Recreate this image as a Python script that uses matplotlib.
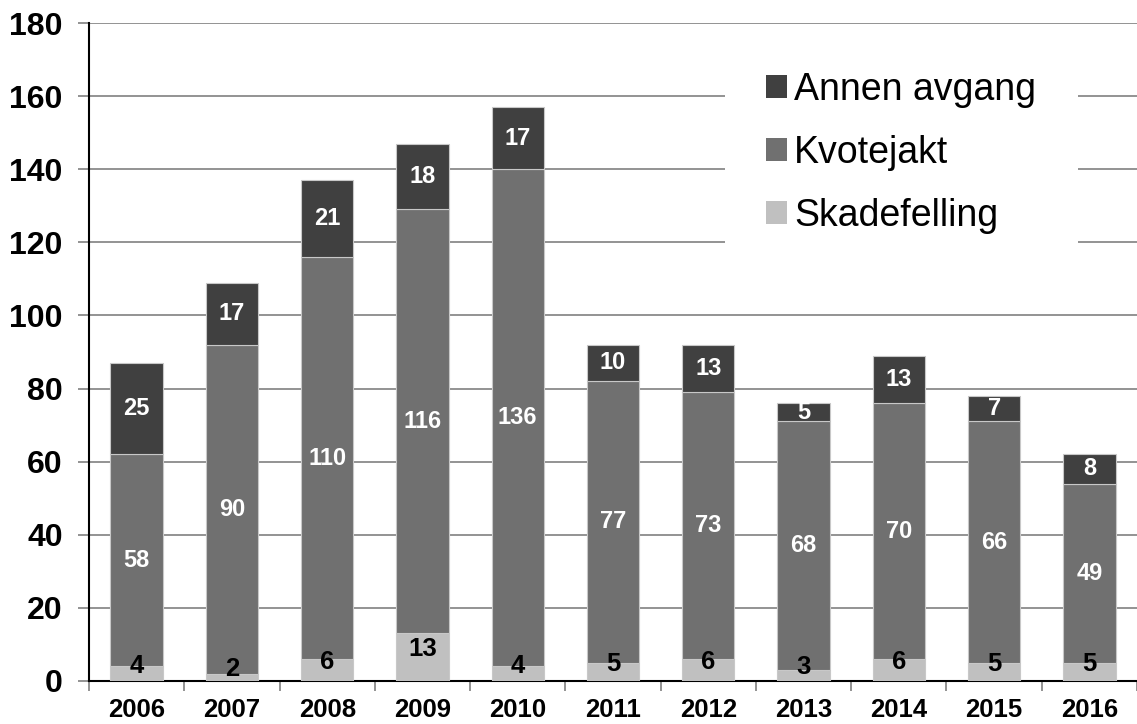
import numpy as np
import matplotlib
matplotlib.use('Agg')
import matplotlib.pyplot as plt

plt.rcParams['font.family'] = ['Liberation Sans', 'DejaVu Sans']

# data
years = ['2006', '2007', '2008', '2009', '2010', '2011', '2012', '2013', '2014', '2015', '2016']
skadefelling = [4, 2, 6, 13, 4, 5, 6, 3, 6, 5, 5]
kvotejakt = [58, 90, 110, 116, 136, 77, 73, 68, 70, 66, 49]
annen = [25, 17, 21, 18, 17, 10, 13, 5, 13, 7, 8]

c_light = '#c0c0c0'
c_mid = '#707070'
c_dark = '#404040'

fig = plt.figure(figsize=(11.37, 7.24), dpi=100)
ax = fig.add_axes([0.0783, 0.0594, 0.9217, 0.9088])

x = np.arange(len(years))
w = 0.55
s = np.array(skadefelling)
k = np.array(kvotejakt)
a = np.array(annen)

b1 = ax.bar(x, s, w, color=c_light, edgecolor='#c8c8c8', linewidth=0.8, label='Skadefelling', zorder=3)
b2 = ax.bar(x, k, w, bottom=s, color=c_mid, edgecolor='#c8c8c8', linewidth=0.8, label='Kvotejakt', zorder=3)
b3 = ax.bar(x, a, w, bottom=s + k, color=c_dark, edgecolor='#c8c8c8', linewidth=0.8, label='Annen avgang', zorder=3)

# verdier i søylene
for i in range(len(years)):
    ax.text(x[i], s[i] / 2 + 2.2, str(s[i]), ha='center', va='center',
            fontsize=18.5, fontweight='bold', color='black', zorder=5)
    ax.text(x[i], s[i] + k[i] / 2, str(k[i]), ha='center', va='center',
            fontsize=17, fontweight='bold', color='white', zorder=5)
    ax.text(x[i], s[i] + k[i] + a[i] / 2, str(a[i]), ha='center', va='center',
            fontsize=17, fontweight='bold', color='white', zorder=5)

ax.set_xlim(-0.5, len(years) - 0.5)
ax.set_ylim(0, 180)
ax.set_yticks(np.arange(0, 181, 20))
ax.yaxis.grid(True, color='#808080', linewidth=1.2, zorder=0)
ax.set_axisbelow(True)

ax.set_xticks(x)
ax.set_xticklabels(years, fontsize=18.5, fontweight='bold')
ax.set_xticks(np.arange(-0.5, len(years), 1), minor=True)
ax.tick_params(axis='x', which='major', length=0, pad=12)
ax.tick_params(axis='x', which='minor', length=7, width=1.2, color='#808080')
ax.tick_params(axis='y', length=8, width=1.2, color='#808080', labelsize=23, pad=11)
for lbl in ax.get_yticklabels():
    lbl.set_fontweight('bold')

ax.spines['top'].set_visible(False)
ax.spines['right'].set_visible(False)
ax.spines['left'].set_color('black')
ax.spines['left'].set_linewidth(1.5)
ax.spines['bottom'].set_color('black')
ax.spines['bottom'].set_linewidth(1.5)

leg = ax.legend(handles=[b3, b2, b1], loc='center', bbox_to_anchor=(0.775, 0.803),
                fontsize=27, frameon=True, facecolor='white', edgecolor='none',
                framealpha=1, fancybox=False, handlelength=0.55, handleheight=0.55,
                handletextpad=0.2, labelspacing=0.72, borderpad=1.1)
leg.set_zorder(6)
for p in leg.get_patches():
    p.set_edgecolor('none')

fig.savefig('out.png', dpi=100)
